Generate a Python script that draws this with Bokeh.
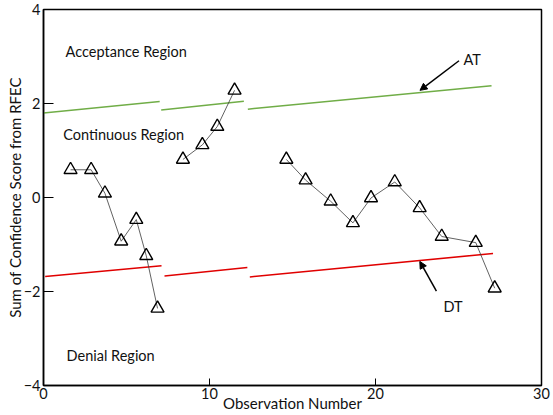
from bokeh.plotting import figure
from bokeh.models import Range1d, FixedTicker, Arrow, NormalHead
from bokeh.core.properties import value
from bokeh.embed import file_html
from bokeh.resources import INLINE

# Observation segments (observation number, sum of confidence score)
obs_1 = [1.63, 2.87, 3.70, 4.68, 5.59, 6.19, 6.87]
score_1 = [0.59, 0.59, 0.09, -0.93, -0.47, -1.24, -2.36]
obs_2 = [8.40, 9.57, 10.47, 11.51]
score_2 = [0.81, 1.12, 1.51, 2.28]
obs_3 = [14.63, 15.79, 17.30, 18.64, 19.73, 21.16, 22.66, 23.99, 26.04, 27.18]
score_3 = [0.81, 0.37, -0.08, -0.54, -0.01, 0.33, -0.22, -0.83, -0.96, -1.93]

# Acceptance threshold (AT) and denial threshold (DT) segments
at_x = [[0.0, 7.0], [7.09, 12.07], [12.31, 26.99]]
at_y = [[1.80, 2.04], [1.86, 2.05], [1.88, 2.38]]
dt_x = [[0.1, 7.11], [7.29, 12.28], [12.43, 27.08]]
dt_y = [[-1.68, -1.45], [-1.67, -1.49], [-1.69, -1.19]]

x_ticks = [0, 10, 20, 30]
y_ticks = [-4, -2, 0, 2, 4]

region_labels = ["Acceptance Region", "Continuous Region", "Denial Region"]
region_x = [1.33, 1.19, 1.39]
region_y = [3.10, 1.33, -3.36]

FONT = "Lato"
TXT = "#111111"

p = figure(width=553, height=415, output_backend="svg", toolbar_location=None,
           x_range=Range1d(0, 30), y_range=Range1d(-4, 4),
           min_border_left=43, min_border_right=12, min_border_top=9, min_border_bottom=30)
p.grid.visible = False
p.outline_line_color = "black"
p.outline_line_width = 1.5
p.background_fill_color = "white"
p.border_fill_color = "white"

p.xaxis.ticker = FixedTicker(ticks=x_ticks)
p.yaxis.ticker = FixedTicker(ticks=y_ticks)
for ax in (p.xaxis[0], p.yaxis[0]):
    ax.axis_line_color = "black"
    ax.axis_line_width = 1.5
    ax.major_tick_line_color = "black"
    ax.minor_tick_line_color = None
    ax.major_tick_out = 0
    ax.major_label_text_font = FONT
    ax.major_label_text_font_size = "14.5px"
    ax.major_label_text_color = TXT
    ax.axis_label_text_font = FONT
    ax.axis_label_text_font_size = "15px"
    ax.axis_label_text_font_style = "normal"
    ax.axis_label_text_color = TXT
p.xaxis.major_tick_in = 7
p.yaxis.major_tick_in = 10
p.xaxis.axis_label = "Observation Number"
p.yaxis.axis_label = "Sum of Confidence Score from RFEC"
p.xaxis.major_label_standoff = 2
p.xaxis.axis_label_standoff = -8
p.yaxis.major_label_standoff = 3
p.yaxis.axis_label_standoff = -3

# threshold lines
p.multi_line(at_x, at_y, line_color="#70AD47", line_width=1.5)
p.multi_line(dt_x, dt_y, line_color="#E00000", line_width=1.5)

# observation series
for xs, ys in ((obs_1, score_1), (obs_2, score_2), (obs_3, score_3)):
    p.line(xs, ys, line_color="#3a3a3a", line_width=0.8)
    p.scatter(xs, ys, marker="triangle", size=13, fill_color=None,
              line_color="black", line_width=1.4)

# region labels
p.text(x=region_x, y=region_y, text=region_labels, text_font=value(FONT),
       text_font_size="14.5px", text_color=TXT, text_align="left", text_baseline="middle")

# AT / DT annotations
p.text(x=[25.3, 24.09], y=[2.93, -2.32], text=["AT", "DT"], text_font=value(FONT),
       text_font_size="14.5px", text_color=TXT, text_align="left", text_baseline="middle")
p.add_layout(Arrow(end=NormalHead(size=7, fill_color="black", line_color="black"),
                   x_start=25.03, y_start=2.91, x_end=22.68, y_end=2.28,
                   line_color="black", line_width=1.5))
p.add_layout(Arrow(end=NormalHead(size=7, fill_color="black", line_color="black"),
                   x_start=23.67, y_start=-1.99, x_end=22.67, y_end=-1.36,
                   line_color="black", line_width=1.5))

open("out.html", "w").write(file_html(p, INLINE))
